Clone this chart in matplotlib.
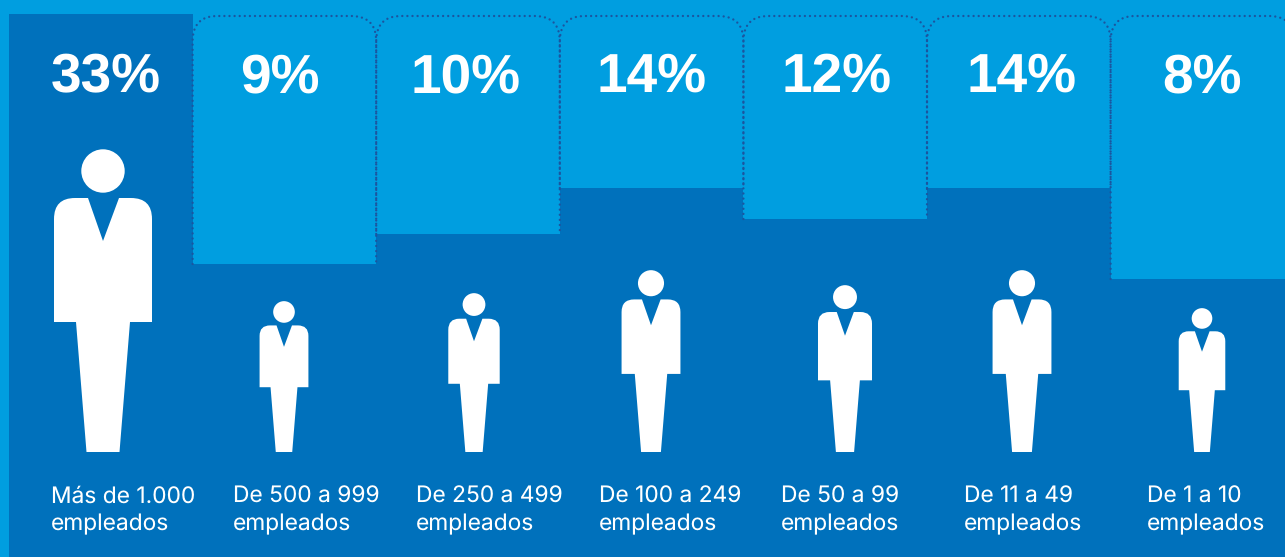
# coding=utf-8
import matplotlib
matplotlib.use('Agg')
import matplotlib.pyplot as plt
from matplotlib.patches import PathPatch, Circle, Rectangle
from matplotlib.path import Path

porcentajes = ['33%', '9%', '10%', '14%', '12%', '14%', '8%']
rangos = ['Más de 1.000', 'De 500 a 999', 'De 250 a 499', 'De 100 a 249',
          'De 50 a 99', 'De 11 a 49', 'De 1 a 10']
# profundidad de la columna clara (la primera no tiene)
profundidad = [0, 250, 220, 174, 205, 174, 265]
# altura de cada figura
altura = [303, 151, 159, 182, 167, 182, 144]
centro_figura = [103, 284, 474, 651, 845, 1022, 1202]

CLARO = '#009ee0'
OSCURO = '#0071bc'
PUNTOS = '#1c559f'

plt.rcParams['text.hinting'] = 'no_hinting'
plt.rcParams['text.hinting_factor'] = 1


def persona(ax, cx, h, base=452):
    s = h / 303.0
    X = lambda d: cx + d * s
    Y = lambda d: base - d * s  # d = distancia desde los pies
    r = 21
    verts = [
        (X(-16.5), Y(0)), (X(-27), Y(130)), (X(-49), Y(130)), (X(-49), Y(254 - r)),
        (X(-49), Y(254)), (X(-49 + r), Y(254)), (X(-15), Y(254)), (X(0), Y(211)),
        (X(16), Y(254)), (X(49 - r), Y(254)), (X(49), Y(254)), (X(49), Y(254 - r)),
        (X(49), Y(130)), (X(27), Y(130)), (X(16.5), Y(0)), (X(-16.5), Y(0)),
    ]
    codes = [Path.MOVETO, Path.LINETO, Path.LINETO, Path.LINETO,
             Path.CURVE3, Path.CURVE3, Path.LINETO, Path.LINETO,
             Path.LINETO, Path.LINETO, Path.CURVE3, Path.CURVE3,
             Path.LINETO, Path.LINETO, Path.LINETO, Path.CLOSEPOLY]
    ax.add_patch(PathPatch(Path(verts, codes), fc='white', ec='none', zorder=4))
    ax.add_patch(Circle((cx, Y(281)), 21.7 * s, fc='white', ec='none', zorder=4))


if __name__ == '__main__':
    fig = plt.figure(figsize=(12.85, 5.57), dpi=100, facecolor=CLARO)
    ax = fig.add_axes([0, 0, 1, 1])
    ax.set_xlim(0, 1285)
    ax.set_ylim(557, 0)
    ax.axis('off')

    ancho = 183.6
    x0 = 9
    top = 14
    ax.add_patch(Rectangle((x0, top), 1285 - x0, 557 - top, fc=OSCURO, ec='none', zorder=1))

    lefts = [x0 + i * ancho for i in range(len(porcentajes))]
    ax.bar(lefts[1:], profundidad[1:], width=ancho, bottom=top, align='edge', color=CLARO, zorder=2)

    r = 25
    for left, d in zip(lefts[1:], profundidad[1:]):
        right = left + ancho
        y_top = top + 2
        verts = [(left, top + d), (left, y_top + r), (left, y_top), (left + r, y_top),
                 (right - r, y_top), (right, y_top), (right, y_top + r), (right, top + d)]
        codes = [Path.MOVETO, Path.LINETO, Path.CURVE3, Path.CURVE3,
                 Path.LINETO, Path.CURVE3, Path.CURVE3, Path.LINETO]
        ax.add_patch(PathPatch(Path(verts, codes), fc='none', ec=PUNTOS, lw=1.7,
                               ls=(0, (0.01, 2.15)), capstyle='round', zorder=3))

    centro_texto = [106, 280, 466, 652, 837, 1022, 1202]
    izq_texto = [51, 233, 416, 599, 781, 964, 1147]
    for i in range(len(porcentajes)):
        persona(ax, centro_figura[i], altura[i])
        ax.text(centro_texto[i], 92, porcentajes[i], color='white', ha='center', va='baseline',
                fontsize=39.5, fontweight='bold', family='Liberation Sans', zorder=5)
        ax.text(izq_texto[i], 503, rangos[i], color='white', ha='left', va='baseline',
                fontsize=16.4, family='Inter', zorder=5)
        ax.text(izq_texto[i], 530, 'empleados', color='white', ha='left', va='baseline',
                fontsize=16.4, family='Inter', zorder=5)

    plt.savefig('out.png', dpi=100, facecolor=fig.get_facecolor())
